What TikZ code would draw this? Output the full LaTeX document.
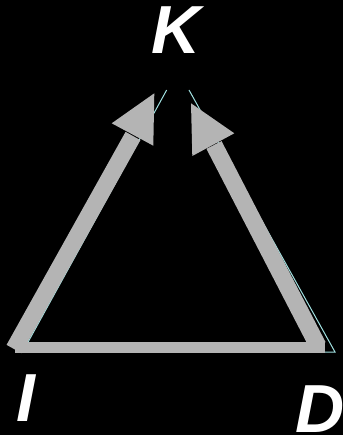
\documentclass[tikz,border=0pt]{standalone}
\usepackage{fontspec}
\setmainfont{Liberation Sans}
\definecolor{bargray}{RGB}{180,180,180}
\definecolor{thincyan}{RGB}{160,224,224}
\begin{document}
\begin{tikzpicture}[x=1pt,y=-1pt,
  lbl/.style={inner sep=0pt,text=white,font=\fontsize{68}{68}\selectfont\bfseries\itshape},
  shaft/.style={draw=bargray,line width=17pt,line cap=butt},
  head/.style={fill=bargray},
  thin/.style={draw=thincyan,line width=1pt}]
\fill[black] (0,0) rectangle (343,435);
\useasboundingbox (0,0) rectangle (343,435);
% text
\node[lbl] (K) at (176,30) {K};
\node[lbl] (I) at (26,398) {I};
\node[lbl] (D) at (320,409) {D};
% coordinates
\coordinate (cl) at (22.6,352);
\coordinate (cr) at (335,352);
\coordinate (ctl) at (166.7,90);
\coordinate (ctr) at (189,90);
\coordinate (lb) at (14,349);
\coordinate (lt) at (133,136);
\coordinate (rb) at (318,346);
\coordinate (rt) at (214,145);
% thin cyan outline
\draw[thin] (ctl) -- (cl) -- (cr) -- (ctr);
% bottom bar
\fill[bargray] (15,341.7) rectangle (325,353.3);
% shafts
\draw[shaft] (lb) -- (lt);
\draw[shaft] (rb) -- (rt);
% heads
\fill[head] (154.3,93.3) -- (111.7,123.3) -- (153.3,145.7) -- cycle;
\fill[head] (191,103.3) -- (192.3,156) -- (234.3,133.3) -- cycle;
\end{tikzpicture}
\end{document}
